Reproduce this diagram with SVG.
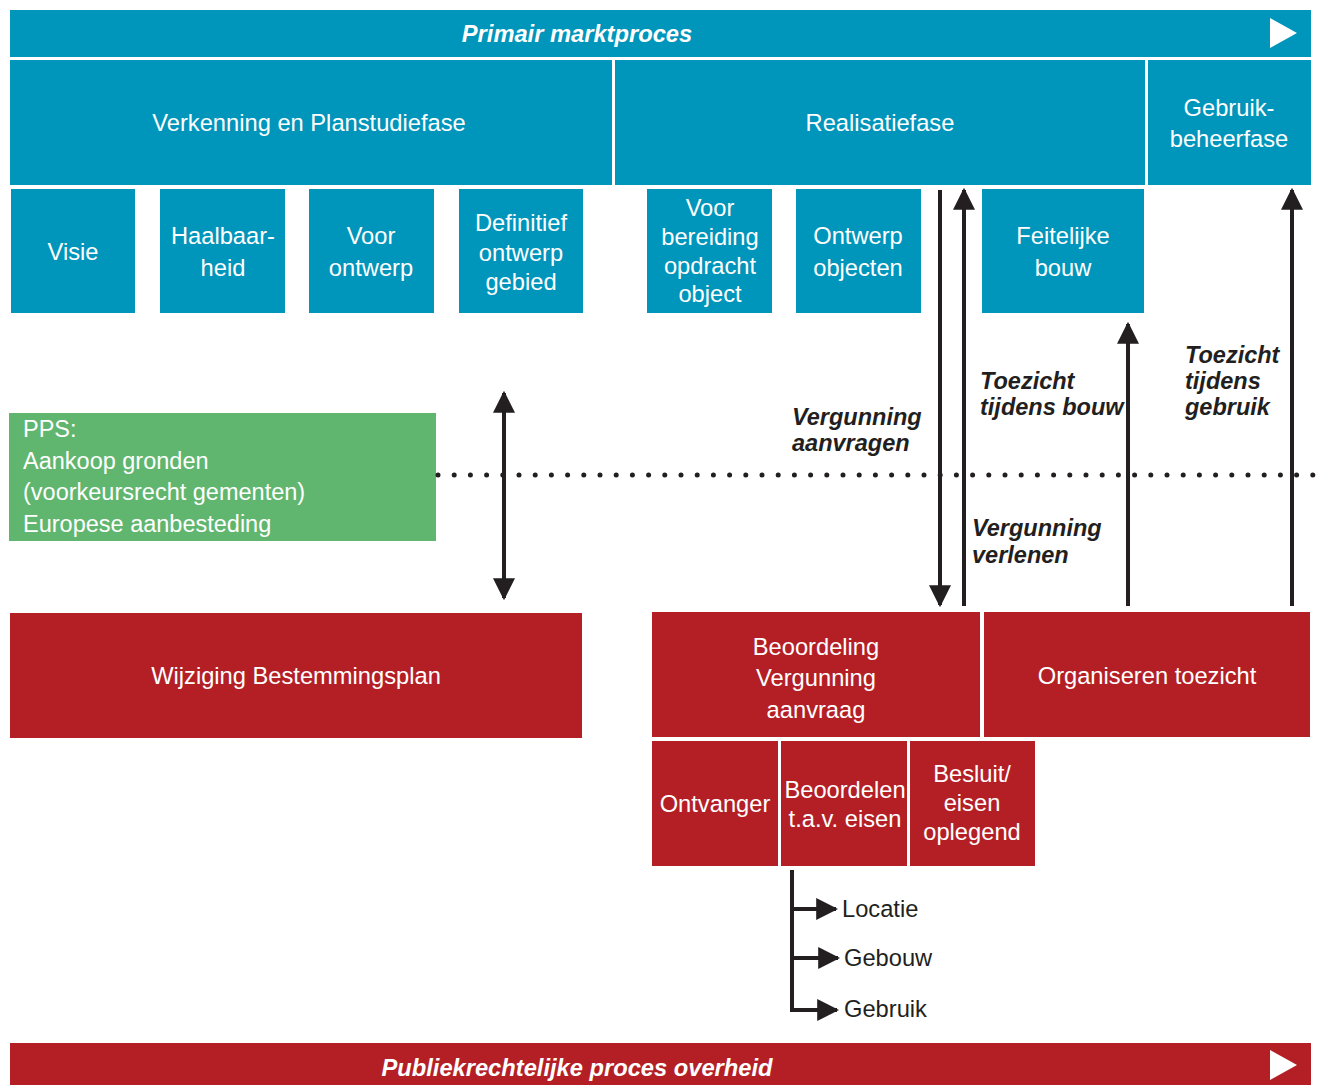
<svg xmlns="http://www.w3.org/2000/svg" width="1328" height="1085" viewBox="0 0 1328 1085">
<style>
.b{fill:#0095BA}
.r{fill:#B41F26}
.g{fill:#60B66F}
.t{font-family:"Liberation Sans",Arial,sans-serif;font-size:23.7px;fill:#fff;text-anchor:middle}
.tl{font-family:"Liberation Sans",Arial,sans-serif;font-size:23.5px;fill:#fff}
.h{font-family:"Liberation Sans",Arial,sans-serif;font-size:23.7px;font-weight:bold;font-style:italic;fill:#fff;text-anchor:middle}
.lab{font-family:"Liberation Sans",Arial,sans-serif;font-size:23.5px;font-weight:bold;font-style:italic;fill:#231F20}
.k{font-family:"Liberation Sans",Arial,sans-serif;font-size:23.7px;fill:#231F20}
.ln{stroke:#231F20;stroke-width:4;fill:none}
</style>
<defs>
<marker id="ah" viewBox="0 0 10 10" refX="9" refY="5" markerWidth="5.5" markerHeight="5.5" orient="auto-start-reverse" markerUnits="strokeWidth">
<path d="M0,0 L10,5 L0,10 z" fill="#231F20"/>
</marker>
</defs>
<rect width="1328" height="1085" fill="#fff"/>
<g id="banner-top">
<rect class="b" x="10" y="10" width="1301" height="47"/>
<text class="h" x="577" y="42">Primair marktproces</text>
<polygon points="1270,18 1297,33 1270,48" fill="#fff"/>
</g>
<g id="phase-verkenning"><rect class="b" x="10" y="60" width="602" height="125"/><text class="t" x="309" y="131">Verkenning en Planstudiefase</text></g>
<g id="phase-realisatie"><rect class="b" x="615" y="60" width="530" height="125"/><text class="t" x="880" y="131">Realisatiefase</text></g>
<g id="phase-gebruik"><rect class="b" x="1148" y="60" width="163" height="125"/><text class="t" x="1229" y="116">Gebruik-</text><text class="t" x="1229" y="147">beheerfase</text></g>
<g id="visie"><rect class="b" x="11" y="189" width="124" height="124"/><text class="t" x="73" y="260">Visie</text></g>
<g id="haalbaarheid"><rect class="b" x="160" y="189" width="125" height="124"/><text class="t" x="223" y="244">Haalbaar-</text><text class="t" x="223" y="276">heid</text></g>
<g id="voorontwerp"><rect class="b" x="309" y="189" width="125" height="124"/><text class="t" x="371" y="244">Voor</text><text class="t" x="371" y="276">ontwerp</text></g>
<g id="definitief"><rect class="b" x="459" y="189" width="124" height="124"/><text class="t" x="521" y="231">Definitief</text><text class="t" x="521" y="261">ontwerp</text><text class="t" x="521" y="290">gebied</text></g>
<g id="voorbereiding"><rect class="b" x="647" y="189" width="125" height="124"/><text class="t" x="710" y="216">Voor</text><text class="t" x="710" y="245">bereiding</text><text class="t" x="710" y="274">opdracht</text><text class="t" x="710" y="302">object</text></g>
<g id="ontwerpobjecten"><rect class="b" x="796" y="189" width="125" height="124"/><text class="t" x="858" y="244">Ontwerp</text><text class="t" x="858" y="276">objecten</text></g>
<g id="feitelijkebouw"><rect class="b" x="982" y="189" width="162" height="124"/><text class="t" x="1063" y="244">Feitelijke</text><text class="t" x="1063" y="276">bouw</text></g>
<g id="pps"><rect class="g" x="9" y="413" width="427" height="128"/><text class="tl" x="23" y="437">PPS:</text><text class="tl" x="23" y="469">Aankoop gronden</text><text class="tl" x="23" y="500">(voorkeursrecht gementen)</text><text class="tl" x="23" y="532">Europese aanbesteding</text></g>
<g id="wijziging"><rect class="r" x="10" y="613" width="572" height="125"/><text class="t" x="296" y="684">Wijziging Bestemmingsplan</text></g>
<g id="beoordeling"><rect class="r" x="652" y="612" width="328" height="125"/><text class="t" x="816" y="655">Beoordeling</text><text class="t" x="816" y="686">Vergunning</text><text class="t" x="816" y="718">aanvraag</text></g>
<g id="organiseren"><rect class="r" x="984" y="612" width="326" height="125"/><text class="t" x="1147" y="684">Organiseren toezicht</text></g>
<g id="ontvanger"><rect class="r" x="652" y="741" width="126" height="125"/><text class="t" x="715" y="812">Ontvanger</text></g>
<g id="beoordelen"><rect class="r" x="781" y="741" width="126" height="125"/><text class="t" x="845" y="798">Beoordelen</text><text class="t" x="845" y="827">t.a.v. eisen</text></g>
<g id="besluit"><rect class="r" x="910" y="741" width="125" height="125"/><text class="t" x="972" y="782">Besluit/</text><text class="t" x="972" y="811">eisen</text><text class="t" x="972" y="840">oplegend</text></g>
<g id="banner-bottom">
<rect class="r" x="10" y="1043" width="1301" height="42"/>
<text class="h" x="577" y="1076">Publiekrechtelijke proces overheid</text>
<polygon points="1270,1050 1297,1065 1270,1080" fill="#fff"/>
</g>
<g id="connectors">
<line x1="438" y1="475" x2="1328" y2="475" stroke="#231F20" stroke-width="5" stroke-linecap="round" stroke-dasharray="0 16.2"/>
<line class="ln" x1="504" y1="393" x2="504" y2="598" marker-start="url(#ah)" marker-end="url(#ah)"/>
<line class="ln" x1="940" y1="190" x2="940" y2="605" marker-end="url(#ah)"/>
<line class="ln" x1="964" y1="606" x2="964" y2="190" marker-end="url(#ah)"/>
<line class="ln" x1="1128" y1="606" x2="1128" y2="324" marker-end="url(#ah)"/>
<line class="ln" x1="1292" y1="606" x2="1292" y2="190" marker-end="url(#ah)"/>
<polyline class="ln" points="792,870 792,1010 837,1010" marker-end="url(#ah)"/>
<line class="ln" x1="792" y1="909" x2="836" y2="909" marker-end="url(#ah)"/>
<line class="ln" x1="792" y1="958" x2="838" y2="958" marker-end="url(#ah)"/>
<text class="lab" x="792" y="425">Vergunning</text><text class="lab" x="792" y="451">aanvragen</text>
<text class="lab" x="980" y="389">Toezicht</text><text class="lab" x="980" y="415">tijdens bouw</text>
<text class="lab" x="1185" y="363">Toezicht</text><text class="lab" x="1185" y="389">tijdens</text><text class="lab" x="1185" y="415">gebruik</text>
<text class="lab" x="972" y="536">Vergunning</text><text class="lab" x="972" y="563">verlenen</text>
<text class="k" x="842" y="917">Locatie</text>
<text class="k" x="844" y="966">Gebouw</text>
<text class="k" x="844" y="1017">Gebruik</text>
</g>
</svg>
